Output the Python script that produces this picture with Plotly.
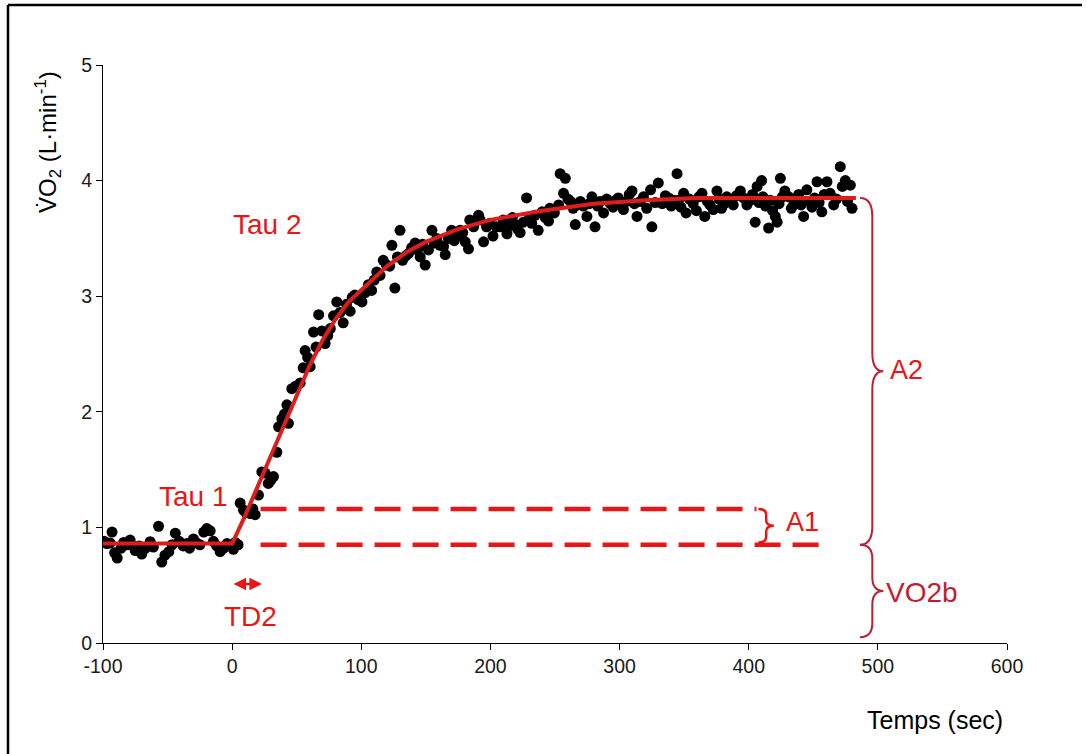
import plotly.graph_objects as go

# ---------------- data ----------------
time_s = [
    -99, -97, -94.5, -93, -91, -89, -86, -84, -81.6, -79, -77, -75, -72, -70, -67, -63.5, -61, -57,
    -54.5, -52, -49, -46.5, -44, -41, -38, -35, -33, -30, -28, -25, -22, -19.6, -17, -14.5, -12,
    -9.3, -6.5, -4, -1.5, 1, 2.3, 4.6,
    6.2, 8.8, 10.5, 12.6, 14, 16, 17.8, 20.4, 23, 25.5, 28, 30, 32, 34.6, 36, 38.5, 40.5, 42.4,
    43.6, 46.2, 49, 52.7, 55, 56.5, 58.5, 60.4, 63, 65, 67, 69.5, 72, 74, 76, 78.5, 81, 83.5, 86,
    88.5, 91.4, 93, 95, 97.5, 100.5, 103, 105.5, 108, 110, 112, 114.5, 117, 119.5, 122, 123.7,
    126, 128, 130, 132, 134.5, 136.6, 139, 141.7, 143.5, 145.6, 147.5, 149.5, 152, 154.7, 156.5,
    158.5, 161, 163.7, 165, 167.5, 170, 172, 174, 176.6, 178.5, 180.5, 183, 184, 187, 190.8, 192,
    194.7, 197, 199.5, 202, 204.5, 207.6, 210, 212.8, 215, 217, 219, 221, 223, 225.5, 228, 230,
    232, 234.5, 237, 240, 242.5, 245, 246, 249.5, 252.8, 254, 256.6, 258, 260, 262, 264, 265.7,
    267.5, 269.6, 272, 274.7, 276.5, 278.6, 281, 283, 285, 287.6, 290, 292.8, 295, 297, 299, 301,
    303, 305.5, 307.5, 309.6, 311.5, 313.5, 316, 318.5, 321, 324, 325, 327.5, 330, 333, 335.5,
    338, 340, 342, 344.5, 345.7, 347.5, 349.6, 351.5, 354, 357, 359.5, 361.5, 363.8, 366, 368,
    370, 372.5, 375.4, 377, 379, 381, 383, 385.5, 388, 390.5, 393.5, 396, 398.6, 401, 403, 405,
    406.5, 408, 410, 411, 413, 415.4, 416.7, 418.5, 420.6, 422, 423.5, 424.5, 426, 428, 431, 433,
    434.8, 436.5, 438.7, 440.5, 442.5, 445, 447, 449, 451, 452.9, 454.5, 456.6, 458.5, 460.6,
    463, 465.8, 468, 470.9, 472.5, 474.8, 476.5, 478.7, 480,
]
vo2 = [
    0.88, 0.86, 0.865, 0.96, 0.78, 0.735, 0.82, 0.87, 0.85, 0.89, 0.84, 0.80, 0.84, 0.77, 0.82,
    0.876, 0.83, 1.01, 0.70, 0.76, 0.79, 0.85, 0.95, 0.88, 0.84, 0.86, 0.82, 0.90, 0.87, 0.85,
    0.96, 0.99, 0.97, 0.88, 0.84, 0.79, 0.82, 0.86, 0.84, 0.81, 0.87, 0.85,
    1.21, 1.15, 1.13, 1.14, 1.12, 1.16, 1.11, 1.28, 1.48, 1.47, 1.38, 1.41, 1.44, 1.65, 1.87,
    1.94, 1.98, 2.06, 1.90, 2.20, 2.22, 2.25, 2.38, 2.53, 2.47, 2.39, 2.69, 2.56, 2.84, 2.70,
    2.59, 2.66, 2.72, 2.83, 2.95, 2.86, 2.77, 2.93, 2.87, 2.99, 3.01, 2.97, 2.95, 3.03, 3.10,
    3.05, 3.14, 3.21, 3.18, 3.31, 3.27, 3.26, 3.44, 3.07, 3.34, 3.57, 3.31, 3.35, 3.37, 3.42,
    3.46, 3.40, 3.34, 3.45, 3.27, 3.40, 3.57, 3.46, 3.50, 3.44, 3.43, 3.36, 3.50, 3.57, 3.48,
    3.52, 3.57, 3.55, 3.47, 3.41, 3.66, 3.60, 3.70, 3.66, 3.47, 3.60, 3.63, 3.52, 3.60, 3.60,
    3.66, 3.54, 3.61, 3.68, 3.62, 3.58, 3.55, 3.64, 3.85, 3.67, 3.63, 3.70, 3.57, 3.73, 3.68,
    3.65, 3.76, 3.72, 3.79, 4.06, 3.89, 4.02, 3.84, 3.82, 3.76, 3.62, 3.79, 3.82, 3.78, 3.69,
    3.80, 3.86, 3.60, 3.78, 3.82, 3.72, 3.84, 3.80, 3.77, 3.83, 3.85, 3.79, 3.75, 3.82, 3.88,
    3.91, 3.80, 3.69, 3.82, 3.86, 3.76, 3.92, 3.60, 3.81, 3.98, 3.80, 3.87, 3.85, 3.78, 3.83,
    4.06, 3.83, 3.77, 3.89, 3.72, 3.84, 3.80, 3.74, 3.86, 3.89, 3.69, 3.82, 3.79, 3.75, 3.91,
    3.84, 3.76, 3.80, 3.86, 3.82, 3.79, 3.87, 3.91, 3.85, 3.79, 3.83, 3.88, 3.64, 3.95, 3.81,
    4.00, 3.86, 3.78, 3.59, 3.83, 3.74, 3.69, 3.64, 3.80, 4.02, 3.86, 3.91, 3.86, 3.76, 3.79,
    3.84, 3.88, 3.79, 3.69, 3.92, 3.82, 3.77, 3.85, 3.99, 3.81, 3.73, 3.88, 3.99, 3.89, 3.79,
    3.84, 4.12, 3.95, 4.00, 3.82, 3.96, 3.76,
]

# fitted model curve
fit_t = [-100, 0, 10, 20, 30, 40, 50, 60, 70, 80, 90, 104, 120, 135, 150, 175, 200, 240, 280,
         320, 360, 420, 483]
fit_v = [0.86, 0.86, 1.10, 1.35, 1.62, 1.88, 2.14, 2.40, 2.62, 2.80, 2.95, 3.10, 3.26, 3.38,
         3.47, 3.58, 3.66, 3.74, 3.80, 3.83, 3.85, 3.85, 3.85]

# model parameters shown as annotations
baseline = 0.85
phase1_end = 1.16
plateau = 3.85
td2 = 22
a1_line_end = 406
base_line_end = 457

x_ticks = [-100, 0, 100, 200, 300, 400, 500, 600]
x_labels = ["-100", "0", "100", "200", "300", "400", "500", "600"]
y_ticks = [0, 1, 2, 3, 4, 5]
y_labels = ["0", "1", "2", "3", "4", "5"]

RED = "rgb(232,22,22)"
DARKRED = "rgb(192,30,48)"
FONT = "Liberation Sans, Arial, sans-serif"

fig = go.Figure()

fig.add_trace(go.Scatter(x=time_s, y=vo2, mode="markers",
                         marker=dict(color="black", size=11, line=dict(width=0)),
                         showlegend=False, hoverinfo="x+y"))
fig.add_trace(go.Scatter(x=fit_t, y=fit_v, mode="lines",
                         line=dict(color="rgb(222,28,28)", width=4),
                         showlegend=False))
fig.add_trace(go.Scatter(x=[td2, a1_line_end], y=[phase1_end, phase1_end], mode="lines",
                         line=dict(color=RED, width=4.5, dash="26px,12px"), showlegend=False))
fig.add_trace(go.Scatter(x=[td2, base_line_end], y=[baseline, baseline], mode="lines",
                         line=dict(color=RED, width=4.5, dash="26px,12px"), showlegend=False))


def brace(x0, yb, yt, curl, tip, r):
    ym = (yb + yt) / 2
    return (f"M {x0 - curl},{yt} Q {x0},{yt} {x0},{yt - r} L {x0},{ym + r} "
            f"Q {x0},{ym} {x0 + tip},{ym} Q {x0},{ym} {x0},{ym - r} "
            f"L {x0},{yb + r} Q {x0},{yb} {x0 - curl},{yb}")


shapes = [
    dict(type="path", xref="x", yref="y", path=brace(495.7, baseline, plateau, 9.5, 8.5, 0.16),
         line=dict(color=DARKRED, width=2)),
    dict(type="path", xref="x", yref="y", path=brace(495.7, 0.05, baseline, 9.5, 8.5, 0.12),
         line=dict(color=DARKRED, width=2)),
    dict(type="path", xref="x", yref="y", path=brace(413.5, baseline + 0.02, phase1_end, 6, 6, 0.05),
         line=dict(color=RED, width=2.5)),
    # outer frame of the picture
    dict(type="line", xref="paper", yref="paper", x0=-0.1051, x1=1.083, y0=1.1038, y1=1.1038,
         line=dict(color="black", width=2.5)),
    dict(type="line", xref="paper", yref="paper", x0=-0.1051, x1=-0.1051, y0=1.1038, y1=-0.21,
         line=dict(color="black", width=2.5)),
]

annotations = [
    dict(x=27, y=3.62, text="Tau 2", showarrow=False, font=dict(color=RED, size=28, family=FONT)),
    dict(x=-30, y=1.27, text="Tau 1", showarrow=False, font=dict(color=RED, size=28, family=FONT)),
    dict(x=14, y=0.23, text="TD2", showarrow=False, font=dict(color=RED, size=28, family=FONT)),
    dict(x=441.5, y=1.05, text="A1", showarrow=False, font=dict(color=RED, size=27, family=FONT)),
    dict(x=522, y=2.36, text="A2", showarrow=False, font=dict(color=RED, size=27, family=FONT)),
    dict(x=534.5, y=0.44, text="VO2b", showarrow=False, font=dict(color=DARKRED, size=28, family=FONT)),
    dict(x=td2 + 1, y=0.51, ax=0, ay=0.51, axref="x", ayref="y", xref="x", yref="y", text="",
         showarrow=True, arrowside="end+start", arrowhead=2, startarrowhead=2,
         arrowsize=1, startarrowsize=1, arrowwidth=2.5, arrowcolor=RED),
    dict(xref="paper", yref="paper", x=0.9204, y=-0.1332, xanchor="center", yanchor="middle",
         text="Temps (sec)", showarrow=False,
         font=dict(color="black", size=25, family=FONT)),
    dict(xref="paper", yref="paper", x=-0.0608, y=0.867, xanchor="center", yanchor="middle",
         textangle=-90,
         text="V\u0307O<sub>2</sub> (L·min<sup>-1</sup>)", showarrow=False,
         font=dict(color="black", size=24, family=FONT)),
]

fig.update_layout(
    width=1087, height=754,
    margin=dict(l=103, r=80, t=65, b=111),
    paper_bgcolor="white", plot_bgcolor="white",
    font=dict(family=FONT, color="#1a1a1a"),
    shapes=shapes, annotations=annotations, showlegend=False,
    xaxis=dict(range=[-100, 600], tickvals=x_ticks, ticktext=x_labels, showgrid=False,
               zeroline=False, showline=True, linecolor="black", linewidth=1, ticks="outside",
               ticklen=6, tickcolor="black", tickfont=dict(size=19.5, color="#1a1a1a")),
    yaxis=dict(range=[0, 5], tickvals=y_ticks, ticktext=y_labels, showgrid=False,
               zeroline=False, showline=True, linecolor="black", linewidth=1, ticks="outside",
               ticklen=6, tickcolor="black", tickfont=dict(size=19.5, color="#1a1a1a")),
)

fig.write_html("out.html", config={"displayModeBar": False},
               post_script="document.body.style.margin='0px';document.body.style.padding='0px';")
